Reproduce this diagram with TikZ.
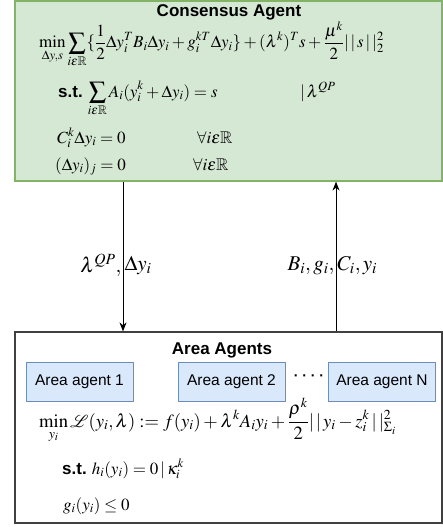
\documentclass[tikz,border=0pt]{standalone}
\usepackage{amsmath}
\usepackage{amssymb}
\usepackage{mathptmx}
\usepackage{mathrsfs}
\usepackage[no-math]{fontspec}
\setsansfont{Liberation Sans}
\usepackage{xcolor}
\definecolor{consfill}{HTML}{D5E8D4}
\definecolor{consline}{HTML}{82B366}
\definecolor{agentfill}{HTML}{DAE8FC}
\definecolor{agentline}{HTML}{6C8EBF}
\usetikzlibrary{positioning,arrows.meta,calc}
\tikzset{
  consbox/.style ={rectangle,draw=consline,fill=consfill,line width=1.2pt,
                   minimum width=427pt,minimum height=180pt},
  areabox/.style ={rectangle,draw=black!75,fill=white,line width=1.2pt,
                   minimum width=427pt,minimum height=191pt},
  agent/.style   ={rectangle,draw=agentline,fill=agentfill,line width=1pt,
                   minimum width=107pt,minimum height=39pt,font=\sffamily\fontsize{15.5}{18}\selectfont},
  heading/.style ={inner sep=0pt,font=\sffamily\bfseries\fontsize{17}{20}\selectfont},
  eq/.style      ={anchor=base west,inner sep=0pt,font=\fontsize{17}{20}\selectfont},
  arrowlab/.style={inner sep=1pt,font=\fontsize{21}{24}\selectfont},
  flow/.style    ={-{Stealth[length=9pt,width=7pt]},line width=1pt,draw=black},
}
\newcommand{\st}{{\sffamily\bfseries s.t.}}
\newcommand{\nrm}[1]{|\,|\,#1\,|\,|}

\begin{document}
\begin{tikzpicture}[x=1pt,y=-1pt]
  \useasboundingbox (0,0) rectangle (443,527);
  \node[consbox] (cons) at (228.5,91) {};
  \node[heading] (constitle) at (229,12) {Consensus Agent};
  \node[eq] (obj) at (39,48) {$\displaystyle\min_{\Delta y,s}\sum_{i\epsilon\mathbb{R}}\{\frac{1}{2}\Delta y_i^TB_i\Delta y_i+g_i^{kT}\Delta y_i\}+(\lambda^k)^Ts+\frac{\mu^k}{2}\nrm{s}_2^2$};
  \node[eq] (coupl) at (58,97) {\st\ $\displaystyle\sum_{i\epsilon\mathbb{R}}A_i(y_i^k+\Delta y_i)=s$};
  \node[eq] (dual) at (300,97) {$|\,\lambda^{QP}$};
  \node[eq] (curv) at (57,143) {$C_i^k\Delta y_i=0$};
  \node[eq] (curvall) at (197,143) {$\forall i\epsilon\mathbb{R}$};
  \node[eq] (fix) at (55,170) {$(\Delta y_i)_j=0$};
  \node[eq] (fixall) at (193,170) {$\forall i\epsilon\mathbb{R}$};

  \node[areabox] (areas) at (228.5,427.5) {};
  \node[heading] (areatitle) at (222,350) {Area Agents};
  \foreach \x/\n in {79.5/1, 231.5/2, 382/N}
    \node[agent] (ag\n) at (\x,382) {Area agent \n};
  \node[heading,font=\sffamily\bfseries\fontsize{14}{16}\selectfont] (dots) at (309,378) {· · · ·};
  \node[eq,font=\fontsize{18.6}{21}\selectfont] (lag) at (39,427) {$\displaystyle\min_{y_i}\mathscr{L}(y_i,\lambda):=f(y_i)+\lambda^kA_iy_i+\frac{\rho^k}{2}\nrm{y_i-z_i^k}^2_{\Sigma_i}$};
  \node[eq] (hcon) at (62,474) {\st\ $h_i(y_i)=0\,|\,\kappa_i^k$};
  \node[eq] (gcon) at (63,510) {$g_i(y_i)\le0$};

  \coordinate (down) at (123,0);
  \coordinate (up) at (336,0);
  \draw[flow] (down |- cons.south) -- node[arrowlab,pos=0.56,left]{$\lambda^{QP},$} node[arrowlab,pos=0.56,right]{$\Delta y_i$} (down |- areas.north);
  \draw[flow] (up |- areas.north) -- node[arrowlab,pos=0.44,left]{$B_i,g_i,$} node[arrowlab,pos=0.44,right]{$C_i,y_i$} (up |- cons.south);
\end{tikzpicture}
\end{document}
